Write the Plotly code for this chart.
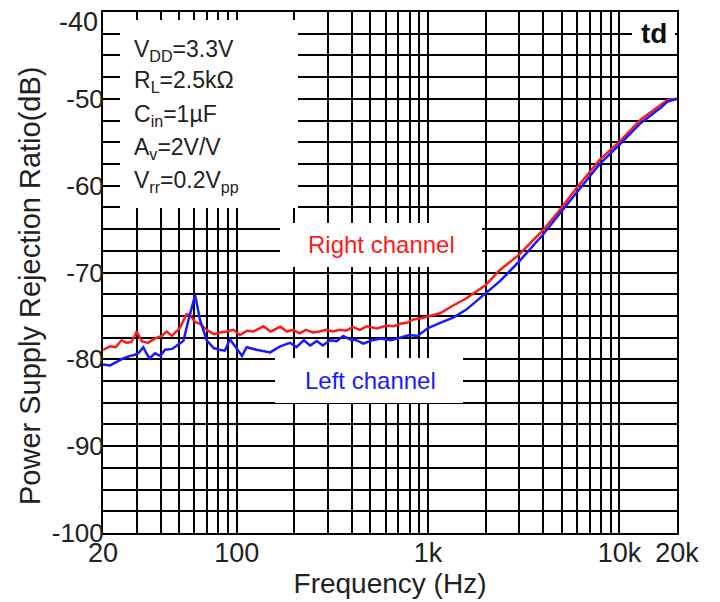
import math
import plotly.graph_objects as go

# ---------------- data ----------------
freq_right = [20, 21.8, 23.3, 25.0, 26.6, 28.2, 30, 31.9, 34.4, 37.4, 40.5, 43.1, 45.8, 50.4, 54.7, 57,
              60.6, 64.3, 69.6, 75.8, 82, 88.6, 95.9, 104, 113, 122, 138, 150, 169, 183, 197, 213, 230,
              250, 270, 294, 318, 346, 372, 406, 440, 478, 540, 609, 660, 713, 775, 838, 910, 985,
              1066, 1157, 1352, 1580, 1987, 2375, 2970, 4000, 4880, 5960, 7900, 10200, 12900, 16500,
              17900, 20000]
psrr_right = [-78.9, -78.5, -78.6, -77.8, -78.1, -78.0, -76.8, -77.9, -78.1, -77.6, -77.3, -76.8, -77.3,
              -76.4, -74.8, -74.9, -75.7, -75.9, -76.6, -77.1, -76.9, -76.8, -76.6, -77.2, -76.7, -76.8,
              -76.2, -76.8, -76.25, -76.8, -76.6, -77.0, -76.6, -76.9, -76.8, -76.6, -76.8, -76.6, -76.7,
              -76.3, -76.6, -76.2, -76.45, -76.1, -76.2, -75.9, -75.8, -75.4, -75.3, -75.1, -74.9, -74.7,
              -73.8, -73.0, -71.5, -69.7, -68.0, -65.1, -62.8, -60.3, -57.0, -54.75, -52.4, -50.7, -50.1,
              -50.0]

freq_left = [20, 21.8, 23.6, 25.5, 27.7, 29.2, 30.6, 32.5, 33.7, 35.0, 37.4, 39.9, 42.2, 46, 48.7, 52.6,
             55.9, 60.6, 64.3, 69.6, 75.8, 81, 86.7, 92.1, 97.4, 106.5, 112.7, 127, 149.5, 168.6, 190,
             205, 224, 242, 262, 282, 307, 333, 360, 390, 423, 458, 510, 565, 640, 713, 800, 880, 943,
             1000, 1157, 1352, 1580, 1987, 2375, 2970, 4000, 4880, 5960, 7900, 10200, 12900, 16500,
             17900, 20000]
psrr_left = [-80.6, -80.7, -80.3, -79.9, -79.6, -79.5, -79.3, -78.6, -79.3, -79.9, -79.3, -79.6, -78.9,
             -78.8, -78.4, -77.9, -75.5, -72.6, -75.5, -77.8, -78.7, -78.9, -79.0, -77.7, -78.4, -79.6,
             -78.6, -78.9, -79.2, -78.5, -78.1, -78.6, -77.8, -78.4, -77.9, -78.4, -77.8, -77.9, -77.3,
             -77.7, -77.8, -78.2, -77.8, -77.6, -77.8, -77.5, -77.2, -77.3, -76.8, -76.4, -75.8, -75.2,
             -74.3, -72.4, -71.0, -68.8, -65.6, -63.2, -60.8, -57.5, -55.1, -52.8, -51.0, -50.3, -50.0]

# labelled x ticks and unlabelled x grid positions
x_tick_vals = [20, 100, 1000, 10000, 20000]
x_tick_text = ["20", "100", "1k", "10k", "20k"]
x_grid_vals = [30, 40, 50, 60, 70, 80, 90, 200, 300, 400, 500, 600, 700, 800, 900,
               2000, 3000, 4000, 5000, 6000, 7000, 8000, 9000]

# labelled y ticks (top label -40 placed as text) and unlabelled y grid positions
y_tick_vals = [-100, -90, -80, -70, -60, -50]
y_tick_text = ["-100", "-90", "-80", "-70", "-60", "-50"]
y_top_label = "-40"
y_grid_vals = [-97.5, -95, -92.5, -87.5, -85, -82.5, -77.5, -75, -72.5, -67.5, -65, -62.5,
               -57.5, -55, -52.5, -47.5, -45, -42.5, -40]

conditions = ["V<sub>DD</sub>=3.3V", "R<sub>L</sub>=2.5kΩ", "C<sub>in</sub>=1µF",
              "A<sub>v</sub>=2V/V", "V<sub>rr</sub>=0.2V<sub>pp</sub>"]

FONT = "Liberation Sans, Arial, sans-serif"
TXT = "#222222"
RED = "#ff1a1a"
BLUE = "#1a1aff"

fig = go.Figure()
fig.add_trace(go.Scatter(x=freq_right, y=psrr_right, mode="lines",
                         line=dict(color=RED, width=2.5), name="Right channel"))
fig.add_trace(go.Scatter(x=freq_left, y=psrr_left, mode="lines",
                         line=dict(color=BLUE, width=2.5), name="Left channel"))

# page has an 8px body margin: figure is 712x594 so the plot lands at page px 103..677 x 12..533
OFF = 8
W, H = 712, 594
L, R, T, B = 95, 43, 4, 69
pw, ph = W - L - R, H - T - B
XMIN, XMAX, YMIN, YMAX = 20.0, 20000.0, -100.0, -40.0
PX0, PY1 = L + OFF, H - B + OFF   # page px of plot left / bottom


def fx(px):  # page pixel -> x data (log axis)
    return XMIN * 10 ** ((px - PX0) / pw * math.log10(XMAX / XMIN))


def fy(py):  # page pixel -> y data
    return YMIN + (PY1 - py) / ph * (YMAX - YMIN)


def dx(px):
    return (px - PX0) / pw


def dy(py):
    return (PY1 - py) / ph


shapes = []
for (x0, x1, y0, y1) in [(120, 298, 20, 208), (280, 482, 223, 267), (275, 463, 358, 403), (632, 675, 22, 45)]:
    shapes.append(dict(type="rect", xref="x", yref="y", layer="between",
                       x0=fx(x0), x1=fx(x1), y0=fy(y1), y1=fy(y0),
                       fillcolor="white", line=dict(width=0)))

annotations = []
ys = [50, 82, 115, 148, 181]
for t, yy in zip(conditions, ys):
    annotations.append(dict(text=t, xref="paper", yref="paper", x=dx(132), y=dy(yy),
                            xanchor="left", yanchor="middle", showarrow=False,
                            font=dict(family=FONT, size=23, color=TXT)))
annotations.append(dict(text="Right channel", xref="paper", yref="paper", x=dx(381), y=dy(244),
                        xanchor="center", yanchor="middle", showarrow=False,
                        font=dict(family=FONT, size=24, color=RED)))
annotations.append(dict(text="Left channel", xref="paper", yref="paper", x=dx(370), y=dy(380),
                        xanchor="center", yanchor="middle", showarrow=False,
                        font=dict(family=FONT, size=24, color=BLUE)))
annotations.append(dict(text="<b>td</b>", xref="paper", yref="paper", x=dx(654), y=dy(33),
                        xanchor="center", yanchor="middle", showarrow=False,
                        font=dict(family=FONT, size=28, color="#111111")))
annotations.append(dict(text="Power Supply Rejection Ratio(dB)", xref="paper", yref="paper",
                        x=dx(30), y=dy(286), textangle=-90,
                        xanchor="center", yanchor="middle", showarrow=False,
                        font=dict(family=FONT, size=29, color=TXT)))
annotations.append(dict(text=y_top_label, xref="paper", yref="paper", x=dx(100), y=dy(22),
                        xanchor="right", yanchor="middle", showarrow=False,
                        font=dict(family=FONT, size=27, color=TXT)))

fig.update_layout(
    width=W, height=H,
    margin=dict(l=L, r=R, t=T, b=B, pad=0),
    paper_bgcolor="white", plot_bgcolor="white",
    showlegend=False,
    shapes=shapes, annotations=annotations,
    font=dict(family=FONT, color=TXT),
)
fig.update_xaxes(type="log", range=[math.log10(XMIN), math.log10(XMAX)], tickmode="array",
                 tickvals=x_tick_vals, ticktext=x_tick_text, ticks="",
                 showgrid=True, gridcolor="black", gridwidth=2,
                 minor=dict(tickmode="array", tickvals=x_grid_vals, ticks="", showgrid=True,
                            gridcolor="black", gridwidth=2),
                 showline=True, linecolor="black", linewidth=2, mirror=True,
                 tickfont=dict(family=FONT, size=27, color=TXT), ticklabelstandoff=-5,
                 title=dict(text="Frequency (Hz)", font=dict(family=FONT, size=28, color=TXT), standoff=4),
                 zeroline=False, automargin=False)
fig.update_yaxes(range=[YMIN, YMAX], tickmode="array", tickvals=y_tick_vals, ticktext=y_tick_text,
                 ticks="", showgrid=True, gridcolor="black", gridwidth=2,
                 minor=dict(tickmode="array", tickvals=y_grid_vals, ticks="", showgrid=True,
                            gridcolor="black", gridwidth=2),
                 showline=True, linecolor="black", linewidth=2, mirror=True,
                 tickfont=dict(family=FONT, size=26, color=TXT), ticklabelstandoff=-8,
                 zeroline=False, automargin=False)
fig.update_layout(yaxis2=dict(overlaying="y", side="left", range=[YMIN, YMAX], tickmode="linear",
                              tick0=-100, dtick=0.5, ticks="inside", ticklen=5, tickwidth=1,
                              tickcolor="black", showticklabels=False, showgrid=False,
                              zeroline=False, showline=False, automargin=False))

fig.write_html("out.html")
